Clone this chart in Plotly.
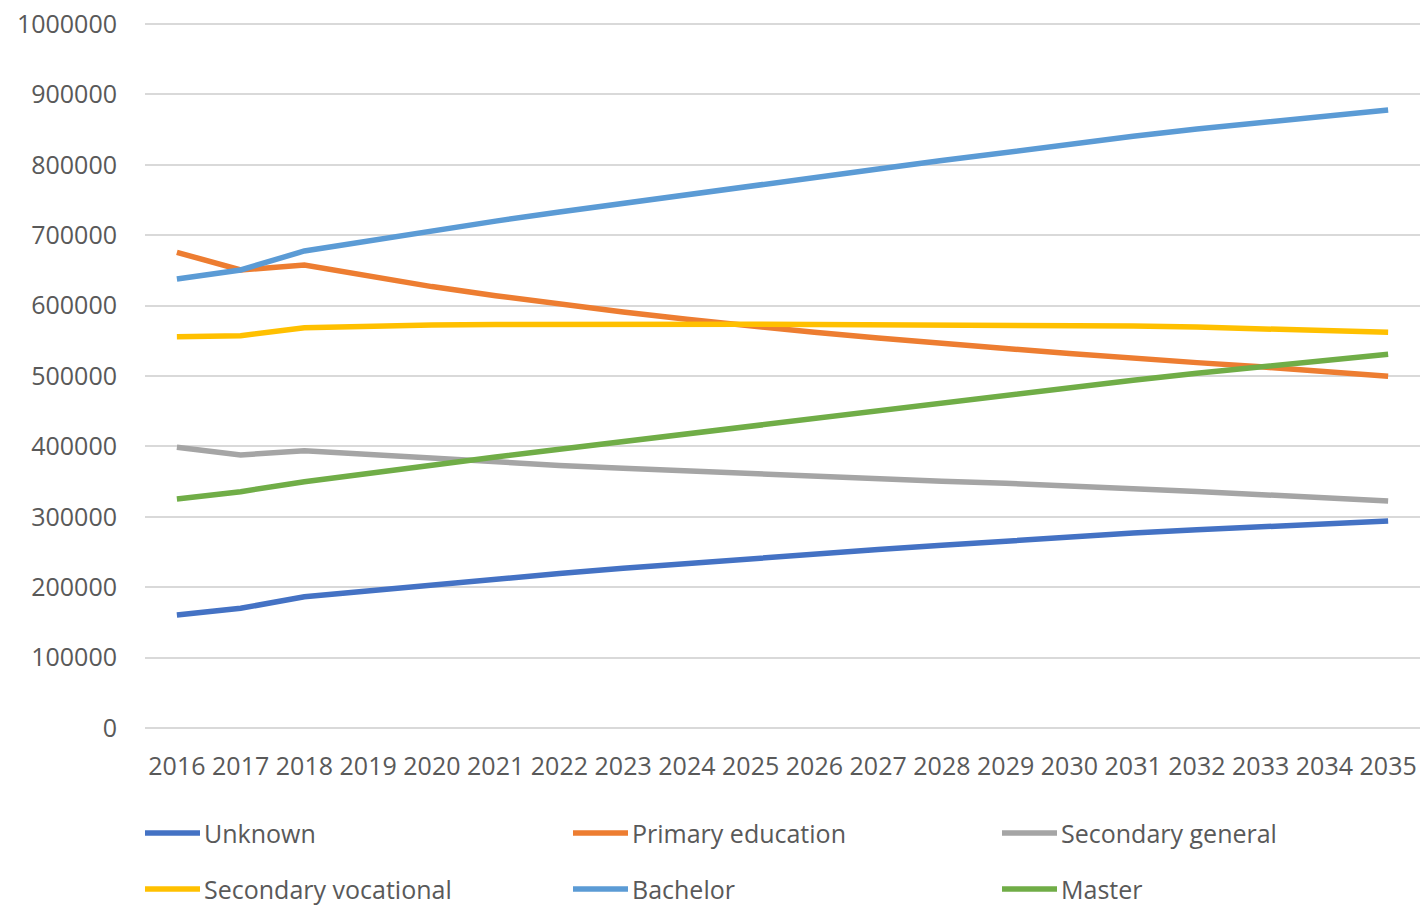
import plotly.graph_objects as go

# Projected population by highest education level, 2016-2035
years = [str(y) for y in range(2016, 2036)]

unknown = [160500, 170000, 186500, 195000, 204000, 212000, 219500, 227000, 234000, 241000,
           248000, 253500, 259500, 265500, 271500, 277000, 281500, 286000, 290000, 294000]
primary_education = [675700, 650600, 657700, 642000, 627000, 614000, 602000, 591000, 580500, 571000,
                     562000, 554000, 546000, 539000, 532000, 525000, 519000, 513000, 506000, 499500]
secondary_general = [398700, 387800, 393900, 388500, 383000, 378000, 373000, 369000, 365000, 361500,
                     358000, 353500, 350500, 347500, 344500, 340000, 336000, 332000, 327500, 322500]
secondary_vocational = [555800, 557300, 568600, 571000, 572400, 573000, 573500, 573500, 573500, 573500,
                        573300, 573000, 572800, 572500, 572000, 571000, 569500, 567500, 565000, 562000]
bachelor = [637800, 650600, 677600, 692000, 706500, 720000, 733000, 745500, 758000, 770000,
            782000, 794000, 806000, 818000, 829500, 840500, 851000, 860000, 869000, 877800]
master = [325300, 335700, 349900, 362000, 373600, 385000, 396000, 407000, 418000, 429000,
          440000, 451000, 462000, 473000, 484000, 494000, 504000, 513500, 522500, 531000]

series_names = ["Unknown", "Primary education", "Secondary general",
                "Secondary vocational", "Bachelor", "Master"]
series_values = [unknown, primary_education, secondary_general,
                 secondary_vocational, bachelor, master]
series_colors = ["#4472C4", "#ED7D31", "#A5A5A5", "#FFC000", "#5B9BD5", "#70AD47"]

y_ticks = list(range(0, 1000001, 100000))

FONT = "Open Sans"
TEXT_COLOR = "#595959"
W, H = 1422, 906
ML, MR, MT, MB = 145, 2, 20, 178
plot_w = W - ML - MR
plot_h = H - MT - MB
# 1,000,000 sits 704 px above the baseline; the extra headroom keeps its gridline visible
y_top = 1000000 * plot_h / 704

fig = go.Figure()
for name, vals, col in zip(series_names, series_values, series_colors):
    fig.add_trace(go.Scatter(
        x=years, y=vals, name=name, mode="lines",
        line=dict(color=col, width=5.5), showlegend=False,
    ))

# Legend laid out as a 3-column grid below the plot
col_x = [145, 573, 1002]
row_y = [833, 889]
line_len = 55
for i, (name, col) in enumerate(zip(series_names, series_colors)):
    r, c = divmod(i, 3)
    x0 = (col_x[c] - ML) / plot_w
    x1 = (col_x[c] + line_len - ML) / plot_w
    yy = (H - MB - row_y[r]) / plot_h
    fig.add_shape(type="line", xref="paper", yref="paper",
                  x0=x0, x1=x1, y0=yy, y1=yy,
                  line=dict(color=col, width=5.5))
    fig.add_annotation(xref="paper", yref="paper",
                       x=(col_x[c] + line_len + 3 - ML) / plot_w, y=yy,
                       text=name, showarrow=False, xanchor="left", yanchor="middle",
                       borderpad=0,
                       font=dict(family=FONT, size=25, color=TEXT_COLOR))

fig.update_layout(
    width=W, height=H,
    margin=dict(l=ML, r=MR, t=MT, b=MB, pad=0),
    paper_bgcolor="white", plot_bgcolor="white",
    font=dict(family=FONT, size=25, color=TEXT_COLOR),
    xaxis=dict(
        type="category", showgrid=False, zeroline=False, showline=False,
        ticks="", ticklabelstandoff=21,
        tickfont=dict(family=FONT, size=25, color=TEXT_COLOR),
        range=[-0.5, len(years) - 0.5],
    ),
    yaxis=dict(
        range=[0, y_top], tickvals=y_ticks, ticktext=[str(v) for v in y_ticks],
        showgrid=True, gridcolor="#D9D9D9", gridwidth=2,
        zeroline=True, zerolinecolor="#D9D9D9", zerolinewidth=2,
        showline=False, ticks="", ticklabelstandoff=27,
        tickfont=dict(family=FONT, size=25, color=TEXT_COLOR),
    ),
)

fig.write_html("out.html")
